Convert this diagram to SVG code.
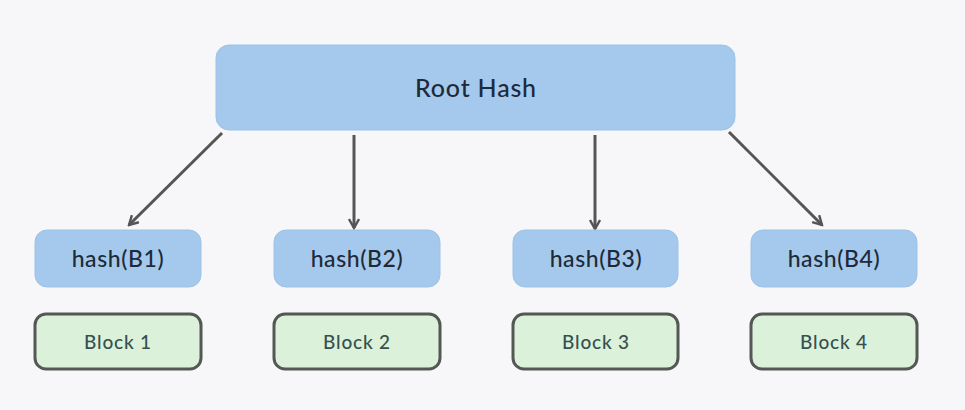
<svg xmlns="http://www.w3.org/2000/svg" width="965" height="410" viewBox="0 0 965 410">
<defs>
<style>
.hash{fill:#a5c9ec;stroke:#9cc2e8;stroke-width:1}
.blk{fill:#dcf1da;stroke:#545854;stroke-width:3}
.t{font-family:Lato,"Open Sans",sans-serif;fill:#1e2a38;text-anchor:middle;font-weight:500}
.th{font-size:23px;letter-spacing:0.6px}
.tb{font-size:19px;fill:#35504f;letter-spacing:0.8px}
.c{stroke:#555;stroke-width:3;fill:none}
</style>
<marker id="ah" viewBox="0 0 12 12" refX="10" refY="6" markerWidth="12" markerHeight="12" markerUnits="userSpaceOnUse" orient="auto">
<path d="M1,1 L10,6 L1,11" fill="none" stroke="#555" stroke-width="2.4"/>
</marker>
</defs>
<rect width="965" height="410" fill="#f7f7f9"/>
<g id="connectors">
<line class="c" x1="222" y1="133" x2="129" y2="225" marker-end="url(#ah)"/>
<line class="c" x1="354" y1="135" x2="354" y2="228" marker-end="url(#ah)"/>
<line class="c" x1="595" y1="135" x2="595" y2="229" marker-end="url(#ah)"/>
<line class="c" x1="729" y1="132" x2="822" y2="225" marker-end="url(#ah)"/>
</g>
<g id="root">
<rect class="hash" x="216" y="45" width="519" height="85" rx="13"/>
<text class="t" x="476" y="97" font-size="25" letter-spacing="0.8">Root Hash</text>
</g>
<g id="hashB1"><rect class="hash" x="35" y="230" width="166" height="57" rx="12"/><text class="t th" x="118" y="267">hash(B1)</text></g>
<g id="hashB2"><rect class="hash" x="274" y="230" width="166" height="57" rx="12"/><text class="t th" x="357" y="267">hash(B2)</text></g>
<g id="hashB3"><rect class="hash" x="513" y="230" width="165" height="57" rx="12"/><text class="t th" x="596" y="267">hash(B3)</text></g>
<g id="hashB4"><rect class="hash" x="751" y="230" width="166" height="57" rx="12"/><text class="t th" x="834" y="267">hash(B4)</text></g>
<g id="block1"><rect class="blk" x="35" y="314" width="166" height="55" rx="11"/><text class="t tb" x="118" y="349">Block 1</text></g>
<g id="block2"><rect class="blk" x="274" y="314" width="166" height="55" rx="11"/><text class="t tb" x="357" y="349">Block 2</text></g>
<g id="block3"><rect class="blk" x="513" y="314" width="165" height="55" rx="11"/><text class="t tb" x="596" y="349">Block 3</text></g>
<g id="block4"><rect class="blk" x="751" y="314" width="166" height="55" rx="11"/><text class="t tb" x="834" y="349">Block 4</text></g>
</svg>
